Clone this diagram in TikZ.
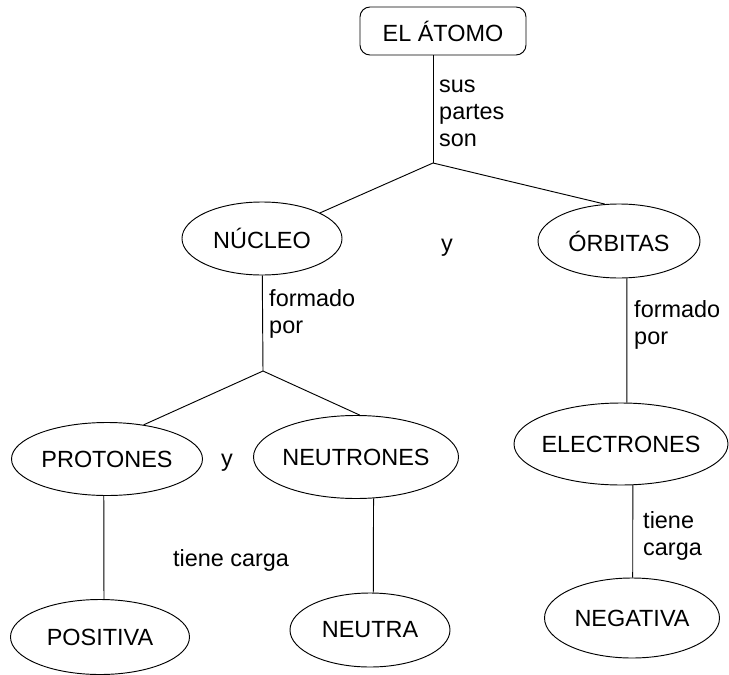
\documentclass[tikz,border=0pt]{standalone}
\usepackage{fontspec}
\setmainfont{Liberation Sans}
\usetikzlibrary{shapes.geometric}

\tikzset{
	concept/.style={draw, ellipse, line width=0.8pt, inner xsep=-0.5cm, inner ysep=0pt, font=\fontsize{20}{23}\selectfont},
	titlebox/.style={draw, rectangle, rounded corners=0.3cm, line width=0.8pt, inner sep=0pt, minimum width=4.98cm, minimum height=1.44cm, font=\fontsize{20}{23}\selectfont},
	linklabel/.style={inner sep=0pt, align=left, font=\fontsize{20}{23}\selectfont},
	link/.style={line width=0.8pt}
}

\begin{document}
\begin{tikzpicture}[x=0.03cm, y=-0.03cm]
	\useasboundingbox (0,0) rectangle (729,675);
	
	\node[titlebox] (atomo) at (443,31) {EL ÁTOMO};
	
	\node[concept, minimum width=4.8cm, minimum height=2.19cm] (nucleo) at (262,238.5) {NÚCLEO};
	\node[concept, minimum width=4.86cm, minimum height=2.22cm] (orbitas) at (619,241) {ÓRBITAS};
	
	\node[concept, minimum width=5.73cm, minimum height=2.19cm] (protones) at (107,459) {PROTONES};
	\node[concept, minimum width=6.15cm, minimum height=2.49cm] (neutrones) at (356,457) {NEUTRONES};
	\node[concept, minimum width=6.42cm, minimum height=2.46cm] (electrones) at (621,444) {ELECTRONES};
	
	\node[concept, minimum width=5.37cm, minimum height=2.25cm] (positiva) at (100,637) {POSITIVA};
	\node[concept, minimum width=4.8cm, minimum height=2.22cm] (neutra) at (370,630) {NEUTRA};
	\node[concept, minimum width=5.25cm, minimum height=2.4cm] (negativa) at (632,618) {NEGATIVA};
	
	% branch points
	\coordinate (partes) at (433,163);
	\coordinate (formado) at (263,371);
	
	\draw[link] (atomo.south -| partes) -- (partes);
	\draw[link] (partes) -- (nucleo);
	\draw[link] (partes) -- (orbitas.111);
	
	\draw[link] (nucleo) -- (formado);
	\draw[link] (formado) -- (protones.43);
	\draw[link] (formado) -- (neutrones.85);
	
	\draw[link] (orbitas.-78) -- (electrones.82);
	\draw[link] (electrones.-74) -- (negativa.89);
	\draw[link] (protones.-95) -- (positiva.84);
	\draw[link] (neutrones.-67) -- (neutra.85);
	
	\node[linklabel, anchor=west] (lsus) at (439,113) {sus\\partes\\son};
	\node[linklabel] (ly1) at (447,248) {y};
	\node[linklabel, anchor=west] (lformado1) at (269,314) {formado\\por};
	\node[linklabel, anchor=west] (lformado2) at (634,325) {formado\\por};
	\node[linklabel] (ly2) at (227,463) {y};
	\node[linklabel] (lcarga1) at (231,560) {tiene carga};
	\node[linklabel, anchor=west] (lcarga2) at (643,536) {tiene\\carga};
\end{tikzpicture}
\end{document}
